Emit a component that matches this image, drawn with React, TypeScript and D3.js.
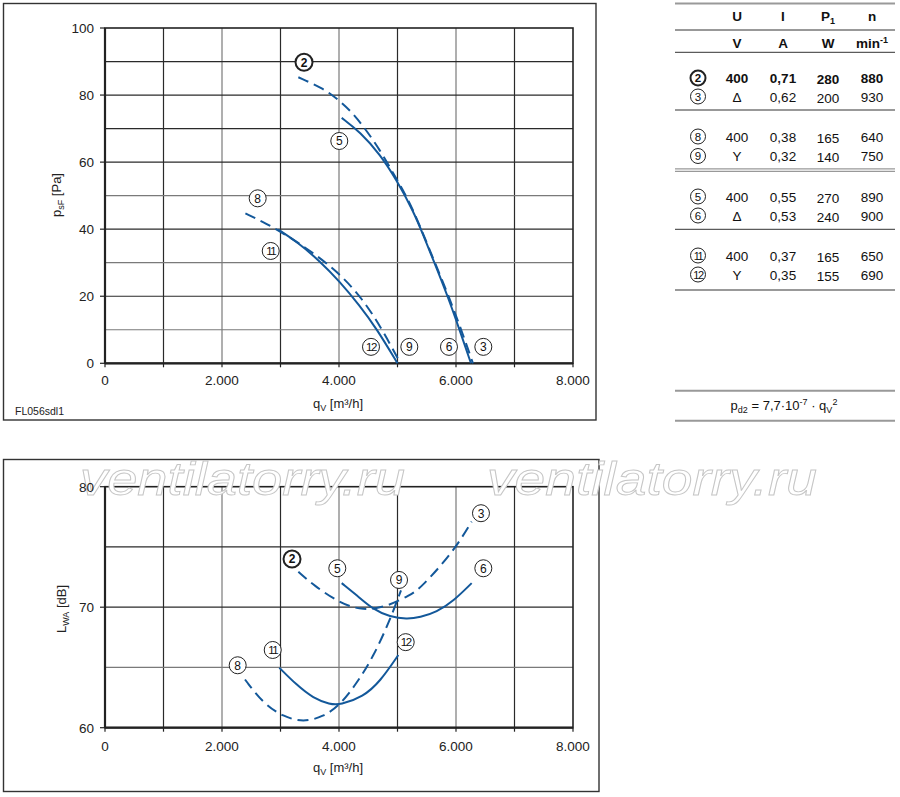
import React from "react";
import * as d3 from "d3";

const FONT = "'Liberation Sans', Arial, Helvetica, sans-serif";
const BLUE = "#13589a";

// ---------- axes ----------
const qTicks = [0, 2000, 4000, 6000, 8000];
const qTickLabels = ["0", "2.000", "4.000", "6.000", "8.000"];
const qGrid = [1000, 2000, 3000, 4000, 5000, 6000, 7000];
const pTicks = [0, 20, 40, 60, 80, 100];
const pGrid = [10, 20, 30, 40, 50, 60, 70, 80, 90];
const lTicks = [60, 70, 80];
const lGrid = [65, 70, 75];

// ---------- pressure curves ----------
const c23_q = [3305, 3732, 3989, 4217, 4444, 4701, 4929, 5128, 5300, 5600, 5880, 6090, 6290];
const c23_p = [85.3, 82.0, 78.6, 75, 70.06, 63.6, 56.6, 50.6, 44.5, 31.7, 19.8, 10, 0];
const c56_q = [4046, 4359, 4701, 4986, 5271, 5442, 5624, 5863, 6060, 6256];
const c56_p = [73.2, 69, 62.3, 54.6, 45.4, 38.2, 30.3, 19.8, 10, 0];
const c89_q = [2400, 2760, 3100, 3500, 4000, 4400, 4730, 5050];
const c89_p = [44.7, 41.7, 38.2, 33.7, 27, 19.3, 10.4, 0];
const c1112_q = [2960, 3300, 3675, 4000, 4350, 4645, 5000];
const c1112_p = [39.9, 36, 30.4, 24.6, 17.3, 10.3, 0];

// ---------- sound curves ----------
const s23_q = [3305, 3561, 4017, 4415, 4815, 5214, 5400, 5954, 6268];
const s23_l = [72.95, 71.84, 70.32, 69.71, 70.04, 71.0, 71.6, 74.6, 77.1];
const s56_q = [4046, 4302, 4587, 4872, 5157, 5385, 5670, 5954, 6268];
const s56_l = [72, 71.0, 69.8, 69.2, 69.0, 69.15, 69.6, 70.5, 72];
const s89_q = [2393, 2707, 3048, 3390, 3732, 4017, 4302, 4587, 4872, 5060];
const s89_l = [64, 62, 60.91, 60.45, 60.91, 61.88, 63.68, 65.89, 68.94, 71.4];
const s1112_q = [2980, 3277, 3561, 3846, 4017, 4415, 4701, 5014];
const s1112_l = [64.98, 63.54, 62.44, 61.94, 61.88, 62.57, 63.82, 66.03];

// ---------- curve labels ----------
const topLabelIds = ["2", "5", "8", "11", "12", "9", "6", "3"];
const topLabelQ = [3402, 4005, 2610, 2833, 4547, 5202, 5880, 6467];
const topLabelP = [89.8, 66.3, 49.2, 33.5, 4.9, 4.9, 4.9, 4.9];
const botLabelIds = ["2", "5", "9", "3", "6", "12", "11", "8"];
const botLabelQ = [3197, 3971, 5026, 6427, 6467, 5140, 2867, 2268];
const botLabelL = [74.0, 73.23, 72.26, 77.8, 73.23, 67.1, 66.45, 65.18];

// ---------- table ----------
const rowIds = ["2", "3", "8", "9", "5", "6", "11", "12"];
const rowU = ["400", "Δ", "400", "Y", "400", "Δ", "400", "Y"];
const rowI = ["0,71", "0,62", "0,38", "0,32", "0,55", "0,53", "0,37", "0,35"];
const rowP = ["280", "200", "165", "140", "270", "240", "165", "155"];
const rowN = ["880", "930", "640", "750", "890", "900", "650", "690"];

const xTop = d3.scaleLinear().domain([0, 8000]).range([105, 573]);
const yTop = d3.scaleLinear().domain([0, 100]).range([363.3, 28]);
const yBot = d3.scaleLinear().domain([60, 80]).range([727.7, 486.7]);

function zip(a: number[], b: number[]): [number, number][] {
  return a.map((v, i) => [v, b[i]]);
}

function Circ({ x, y, t, bold, r = 8.5, fs = 12 }: any) {
  const two = t.length > 1;
  return (
    <g>
      <circle cx={x} cy={y} r={r} fill="#fff" stroke="#222" strokeWidth={bold ? 2 : 1} />
      <text
        x={x}
        y={y + fs * 0.36}
        textAnchor="middle"
        fontSize={two ? fs - 0.5 : fs}
        fontWeight={bold ? "bold" : "normal"}
        fill="#111"
        letterSpacing={two ? -1.4 : 0}
        style={{ fontFamily: FONT }}
      >
        {t}
      </text>
    </g>
  );
}

function Plot({ y, yTicksArr, yGridArr, greyY, curves, labels, qTitleY, tickLabelY, part }: any) {
  const x = xTop;
  const [y0, y1] = y.range();
  const line = d3
    .line<[number, number]>()
    .x((d) => x(d[0]))
    .y((d) => y(d[1]))
    .curve(d3.curveBasis);
  if (part === "text") {
    return (
      <g>
        {qTicks.map((q, i) => (
          <text key={"lq" + q} x={x(q)} y={tickLabelY} textAnchor="middle" fontSize={13.5} fill="#222">
            {qTickLabels[i]}
          </text>
        ))}
        {yTicksArr.map((v: number) => (
          <text key={"ly" + v} x={94} y={y(v) + 5} textAnchor="end" fontSize={13.5} fill="#222">
            {v}
          </text>
        ))}
        <text x={338} y={qTitleY} textAnchor="middle" fontSize={13} fill="#222">
          q<tspan dy={3} fontSize={9}>V</tspan>
          <tspan dy={-3}> [m³/h]</tspan>
        </text>
      </g>
    );
  }
  return (
    <g>
      {qGrid.map((q) => (
        <line key={"vq" + q} x1={x(q)} x2={x(q)} y1={y0} y2={y1} stroke={q % 2000 === 0 ? "#7a7a7a" : "#2a2a2a"} strokeWidth={1.2} />
      ))}
      {yGridArr.map((v: number) => (
        <line key={"hy" + v} x1={x(0)} x2={x(8000)} y1={y(v)} y2={y(v)} stroke={greyY.includes(v) ? "#7a7a7a" : "#2a2a2a"} strokeWidth={1.2} />
      ))}
      <rect x={x(0)} y={y1} width={x(8000) - x(0)} height={y0 - y1} fill="none" stroke="#222" strokeWidth={1.6} />
      <line x1={x(0)} x2={x(8000)} y1={y0} y2={y0} stroke="#222" strokeWidth={2.2} />
      <line x1={x(0)} x2={x(0)} y1={y0} y2={y1} stroke="#222" strokeWidth={2.2} />
      {[0, 1000, 2000, 3000, 4000, 5000, 6000, 7000, 8000].map((q) => (
        <line key={"tq" + q} x1={x(q)} x2={x(q)} y1={y0} y2={y0 + 4} stroke="#222" strokeWidth={1.2} />
      ))}
      {yTicksArr.map((v: number) => (
        <line key={"ty" + v} x1={x(0) - 5} x2={x(0)} y1={y(v)} y2={y(v)} stroke="#222" strokeWidth={1.2} />
      ))}
      {curves.map((c: any, i: number) => (
        <path key={"c" + i} d={line(c.pts) as string} fill="none" stroke={BLUE} strokeWidth={2} strokeDasharray={c.dashed ? "11,6" : undefined} />
      ))}
      {labels.map((l: any, i: number) => (
        <Circ key={"lab" + i} x={x(l.q)} y={y(l.v)} t={l.id} bold={l.id === "2"} />
      ))}
    </g>
  );
}

function Watermark({ x, len }: any) {
  return (
    <text
      x={x}
      y={495}
      fontSize={46}
      fontStyle="italic"
      fill="#fff"
      stroke="#c6c6c6"
      strokeWidth={0.9}
      textLength={len}
      lengthAdjust="spacingAndGlyphs"
    >
      ventilatorry.ru
    </text>
  );
}

export default function App() {
  const topCurves = [
    { pts: zip(c23_q, c23_p), dashed: true },
    { pts: zip(c56_q, c56_p), dashed: false },
    { pts: zip(c89_q, c89_p), dashed: true },
    { pts: zip(c1112_q, c1112_p), dashed: false },
  ];
  const botCurves = [
    { pts: zip(s23_q, s23_l), dashed: true },
    { pts: zip(s56_q, s56_l), dashed: false },
    { pts: zip(s89_q, s89_l), dashed: true },
    { pts: zip(s1112_q, s1112_l), dashed: false },
  ];
  const topLabels = topLabelIds.map((id, i) => ({ id, q: topLabelQ[i], v: topLabelP[i] }));
  const botLabels = botLabelIds.map((id, i) => ({ id, q: botLabelQ[i], v: botLabelL[i] }));

  const colX = [698, 737, 783, 828, 872];
  const rowBase = [83, 101.5, 141.5, 161, 201.5, 220.5, 260.5, 279.5];

  const topProps = { y: yTop, yTicksArr: pTicks, yGridArr: pGrid, greyY: [10, 30, 50], curves: topCurves, labels: topLabels, qTitleY: 408, tickLabelY: 385 };
  const botProps = { y: yBot, yTicksArr: lTicks, yGridArr: lGrid, greyY: [65], curves: botCurves, labels: botLabels, qTitleY: 772, tickLabelY: 751 };

  return (
    <svg width={900} height={797} style={{ position: "absolute", left: 0, top: 0, background: "#fff", fontFamily: FONT }}>
      <rect x={0} y={0} width={900} height={797} fill="#fff" />
      {/* top panel */}
      <rect x={3.5} y={3.5} width={592.5} height={416.5} fill="none" stroke="#333" strokeWidth={1.4} />
      <Plot {...topProps} part="marks" />
      <Plot {...topProps} part="text" />
      <text transform="translate(61,195) rotate(-90)" textAnchor="middle" fontSize={13} fill="#222">
        p<tspan dy={3} fontSize={9}>sF</tspan>
        <tspan dy={-3}> [Pa]</tspan>
      </text>
      <text x={15} y={415} fontSize={10.5} fill="#222">FL056sdl1</text>

      {/* bottom panel */}
      <rect x={3.5} y={459.5} width={595.5} height={332} fill="none" stroke="#333" strokeWidth={1.4} />
      <Plot {...botProps} part="marks" />
      <Watermark x={80} len={325} />
      <Watermark x={487} len={330} />
      <Plot {...botProps} part="text" />
      <text transform="translate(66,609) rotate(-90)" textAnchor="middle" fontSize={13} fill="#222">
        L<tspan dy={3} fontSize={9}>WA</tspan>
        <tspan dy={-3}> [dB]</tspan>
      </text>

      {/* table */}
      <line x1={675} x2={895} y1={3.5} y2={3.5} stroke="#999" strokeWidth={2} />
      <line x1={675} x2={895} y1={30} y2={30} stroke="#333" strokeWidth={1} />
      <line x1={675} x2={895} y1={52.3} y2={52.3} stroke="#333" strokeWidth={1} />
      <line x1={675} x2={895} y1={110} y2={110} stroke="#333" strokeWidth={1} />
      <line x1={675} x2={895} y1={168.8} y2={168.8} stroke="#999" strokeWidth={1.2} />
      <line x1={675} x2={895} y1={171.4} y2={171.4} stroke="#999" strokeWidth={1.2} />
      <line x1={675} x2={895} y1={229.3} y2={229.3} stroke="#333" strokeWidth={1} />
      <line x1={675} x2={895} y1={290} y2={290} stroke="#999" strokeWidth={2} />

      <g fontSize={13.5} fontWeight="bold" fill="#111" textAnchor="middle">
        <text x={colX[1]} y={21}>U</text>
        <text x={colX[2]} y={21}>I</text>
        <text x={colX[3]} y={21}>
          P<tspan dy={3} fontSize={9}>1</tspan>
        </text>
        <text x={colX[4]} y={21}>n</text>
        <text x={colX[1]} y={48}>V</text>
        <text x={colX[2]} y={48}>A</text>
        <text x={colX[3]} y={48}>W</text>
        <text x={colX[4]} y={48}>
          min<tspan dy={-5} fontSize={9}>-1</tspan>
        </text>
      </g>
      {rowIds.map((id, i) => (
        <g key={"row" + id}>
          <Circ x={colX[0]} y={rowBase[i] - 5} t={id} bold={id === "2"} r={7.5} fs={11.5} />
          <g fontSize={13.5} fontWeight={i === 0 ? "bold" : "normal"} fill="#111" textAnchor="middle">
            <text x={colX[1]} y={rowBase[i]}>{rowU[i]}</text>
            <text x={colX[2]} y={rowBase[i]}>{rowI[i]}</text>
            <text x={colX[3]} y={rowBase[i] + 1}>{rowP[i]}</text>
            <text x={colX[4]} y={rowBase[i]}>{rowN[i]}</text>
          </g>
        </g>
      ))}

      {/* formula */}
      <line x1={675} x2={895} y1={390.7} y2={390.7} stroke="#999" strokeWidth={2} />
      <line x1={675} x2={895} y1={420.7} y2={420.7} stroke="#999" strokeWidth={2} />
      <text x={784} y={410} textAnchor="middle" fontSize={13} fill="#111">
        p<tspan dy={3} fontSize={9}>d2</tspan>
        <tspan dy={-3}> = 7,7·10</tspan>
        <tspan dy={-5} fontSize={9}>-7</tspan>
        <tspan dy={5}> · q</tspan>
        <tspan dy={3} fontSize={9}>V</tspan>
        <tspan dy={-8} fontSize={9}>2</tspan>
      </text>
    </svg>
  );
}
